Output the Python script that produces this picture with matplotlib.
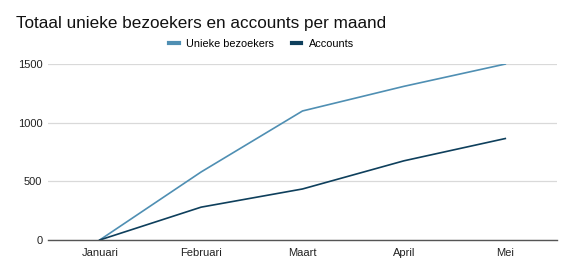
import matplotlib
matplotlib.use("Agg")
import matplotlib.pyplot as plt

plt.rcParams["font.family"] = ["Liberation Sans", "DejaVu Sans"]

months = ["Januari", "Februari", "Maart", "April", "Mei"]
unieke_bezoekers = [0, 580, 1100, 1310, 1500]
accounts = [0, 280, 435, 675, 865]
y_ticks = [0, 500, 1000, 1500]

fig = plt.figure(figsize=(5.75, 2.68), dpi=100)
ax = fig.add_axes([0.0835, 0.1045, 0.8852, 0.6565])

x = range(len(months))
ax.plot(x, unieke_bezoekers, color="#4f8fb3", linewidth=1.2, label="Unieke bezoekers")
ax.plot(x, accounts, color="#0e3f5c", linewidth=1.2, label="Accounts")

ax.set_xlim(-0.51, len(months) - 0.49)
ax.set_ylim(0, 1500)
ax.set_xticks(list(x))
ax.set_xticklabels(months)
ax.set_yticks(y_ticks)
ax.tick_params(axis="both", length=0, labelsize=8, colors="#222222")
ax.tick_params(axis="y", pad=4)
ax.tick_params(axis="x", pad=6)
ax.grid(axis="y", color="#d9d9d9", linewidth=0.9)
ax.set_axisbelow(True)
for side in ["top", "right", "left"]:
    ax.spines[side].set_visible(False)
ax.spines["bottom"].set_color("#555555")
ax.spines["bottom"].set_linewidth(1.0)

fig.text(0.028, 0.912, "Totaal unieke bezoekers en accounts per maand", fontsize=12.3, color="#111111", va="center")
fig.legend(loc="center", bbox_to_anchor=(0.455, 0.835), ncol=2, frameon=False, fontsize=7.8,
           handlelength=0.9, columnspacing=1.6, handletextpad=0.7)
for line in fig.legends[0].get_lines():
    line.set_linewidth(3)

fig.savefig("out.png", dpi=100)
